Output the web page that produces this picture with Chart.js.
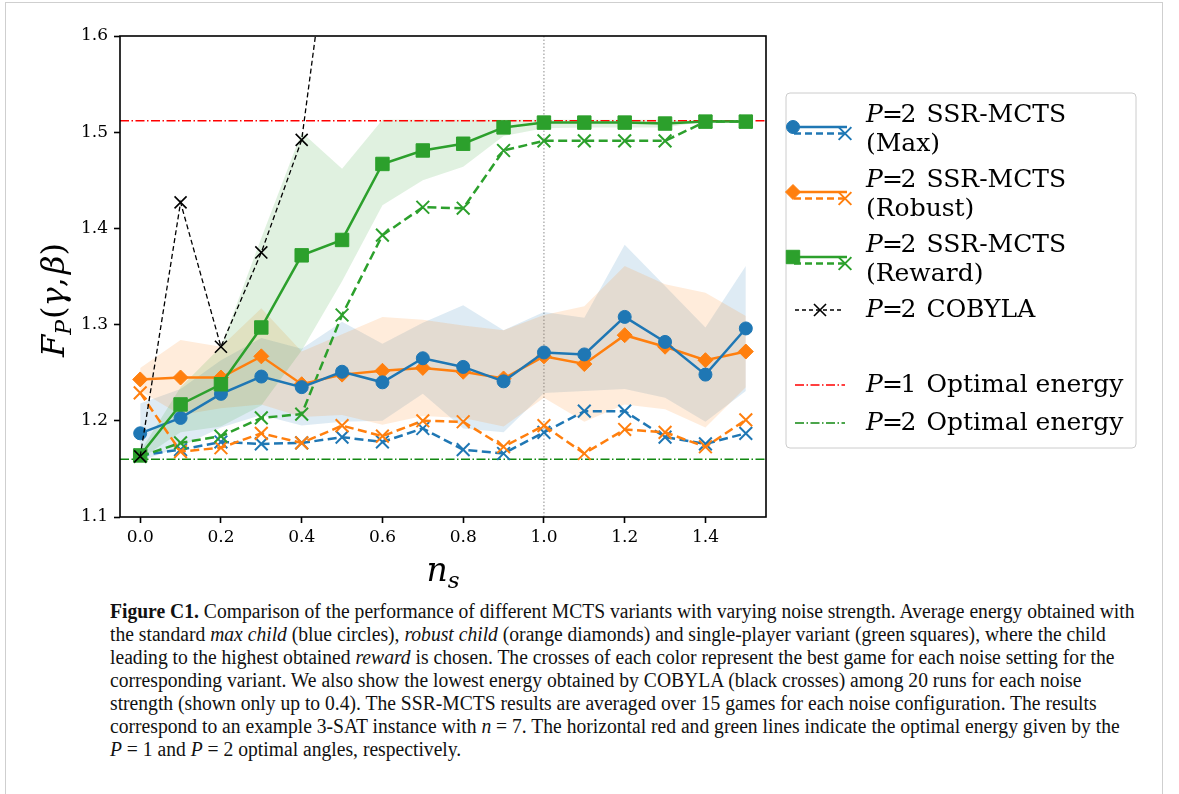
<!DOCTYPE html>
<html>
<head>
<meta charset="utf-8">
<script src="https://cdn.jsdelivr.net/npm/chart.js@4.4.1/dist/chart.umd.min.js"></script>
<style>
  html, body { margin: 0; padding: 0; background: #fff; }
  body { width: 1179px; height: 794px; position: relative; overflow: hidden; }
  #frame { position: absolute; left: 5px; top: 2px; width: 1158px; height: 900px; border: 1.5px solid #cfcfcf; box-sizing: border-box; }
  #plot { position: absolute; left: 0; top: 0; }
  #caption { position: absolute; left: 110px; top: 600px; font-family: "Liberation Serif", serif; font-size: 20px; color: #111; }
  #caption .ln { white-space: nowrap; height: 23px; line-height: 23px; transform-origin: 0 50%; }
  #caption i { font-style: italic; }
</style>
</head>
<body>
<div id="frame"></div>
<canvas id="plot" width="1179" height="600"></canvas>
<div id="caption">
  <div class="ln"><b>Figure C1.</b> Comparison of the performance of different MCTS variants with varying noise strength. Average energy obtained with</div>
  <div class="ln">the standard <i>max child</i> (blue circles), <i>robust child</i> (orange diamonds) and single-player variant (green squares), where the child</div>
  <div class="ln">leading to the highest obtained <i>reward</i> is chosen. The crosses of each color represent the best game for each noise setting for the</div>
  <div class="ln">corresponding variant. We also show the lowest energy obtained by COBYLA (black crosses) among 20 runs for each noise</div>
  <div class="ln">strength (shown only up to 0.4). The SSR-MCTS results are averaged over 15 games for each noise configuration. The results</div>
  <div class="ln">correspond to an example 3-SAT instance with <i>n</i> = 7. The horizontal red and green lines indicate the optimal energy given by the</div>
  <div class="ln"><i>P</i> = 1 and <i>P</i> = 2 optimal angles, respectively.</div>
</div>
<script>
// noise strength n_s
const ns = [0, 0.1, 0.2, 0.3, 0.4, 0.5, 0.6, 0.7, 0.8, 0.9, 1.0, 1.1, 1.2, 1.3, 1.4, 1.5];

// averaged energy over games
const maxMean    = [1.187, 1.203, 1.228, 1.246, 1.235, 1.251, 1.240, 1.265, 1.256, 1.241, 1.271, 1.269, 1.308, 1.282, 1.248, 1.296];
const robustMean = [1.243, 1.245, 1.245, 1.267, 1.238, 1.248, 1.252, 1.255, 1.251, 1.244, 1.267, 1.259, 1.289, 1.277, 1.263, 1.272];
const rewardMean = [1.164, 1.217, 1.238, 1.297, 1.372, 1.388, 1.467, 1.481, 1.488, 1.505, 1.510, 1.510, 1.510, 1.509, 1.511, 1.511];

// spread bands around the averages
const maxUpper    = [1.218, 1.233, 1.263, 1.286, 1.275, 1.303, 1.280, 1.302, 1.320, 1.294, 1.313, 1.307, 1.383, 1.340, 1.297, 1.361];
const maxLower    = [1.158, 1.173, 1.193, 1.206, 1.195, 1.199, 1.200, 1.228, 1.192, 1.188, 1.229, 1.231, 1.233, 1.224, 1.199, 1.231];
const robustUpper = [1.255, 1.284, 1.277, 1.317, 1.272, 1.290, 1.308, 1.305, 1.299, 1.294, 1.310, 1.319, 1.361, 1.342, 1.333, 1.309];
const robustLower = [1.231, 1.206, 1.213, 1.217, 1.204, 1.206, 1.196, 1.205, 1.203, 1.194, 1.224, 1.199, 1.217, 1.212, 1.193, 1.235];
const rewardUpper = [1.168, 1.235, 1.277, 1.390, 1.500, 1.462, 1.513, 1.513, 1.513, 1.513, 1.513, 1.513, 1.513, 1.513, 1.512, 1.512];
const rewardLower = [1.160, 1.188, 1.194, 1.216, 1.273, 1.345, 1.424, 1.450, 1.464, 1.496, 1.504, 1.505, 1.505, 1.505, 1.511, 1.511];

// best game per noise setting
const maxBest    = [1.164, 1.170, 1.178, 1.176, 1.177, 1.183, 1.178, 1.192, 1.170, 1.166, 1.188, 1.210, 1.210, 1.183, 1.176, 1.187];
const robustBest = [1.229, 1.168, 1.172, 1.187, 1.177, 1.195, 1.184, 1.200, 1.199, 1.173, 1.195, 1.166, 1.191, 1.188, 1.173, 1.201];
const rewardBest = [1.163, 1.177, 1.184, 1.203, 1.207, 1.310, 1.393, 1.422, 1.421, 1.481, 1.491, 1.491, 1.491, 1.491, 1.511, 1.511];

// COBYLA lowest energy over 20 runs
const cobylaNs = [0, 0.1, 0.2, 0.3, 0.4, 0.5];
const cobyla   = [1.163, 1.427, 1.277, 1.375, 1.492, 1.81];

// optimal energies and the n_s = 1 marker
const p1Optimal = 1.512;
const p2Optimal = 1.160;
const noiseMark = 1.0;

const xRange = [-0.05, 1.55];
const yRange = [1.1, 1.6];
const xTicks = [0, 0.2, 0.4, 0.6, 0.8, 1.0, 1.2, 1.4];
const yTicks = [1.1, 1.2, 1.3, 1.4, 1.5, 1.6];

const variantNames = ['(Max)', '(Robust)', '(Reward)'];

const BLUE = '#1f77b4', ORANGE = '#ff7f0e', GREEN = '#2ca02c';
const REF_RED = '#ff0000', REF_GREEN = '#118811';
const DASHDOT = [9, 2.5, 1.5, 2.5];
const SERIF = '"DejaVu Serif"';

const pts = (xs, ys) => ys.map((y, i) => ({ x: xs[i], y }));

function band(lower, upper, rgb, order) {
  return [
    { data: pts(ns, lower), borderColor: 'rgba(0,0,0,0)', borderWidth: 0, pointRadius: 0, fill: false, order },
    { data: pts(ns, upper), borderColor: 'rgba(0,0,0,0)', borderWidth: 0, pointRadius: 0, fill: '-1',
      backgroundColor: 'rgba(' + rgb + ',0.15)', order }
  ];
}

function meanLine(ys, color, style, radius, order) {
  return { data: pts(ns, ys), borderColor: color, borderWidth: 2.5, pointStyle: style, pointRadius: radius,
    pointBackgroundColor: color, pointBorderColor: color, pointBorderWidth: 1, fill: false, order };
}

function bestLine(ys, color, order) {
  return { data: pts(ns, ys), borderColor: color, borderWidth: 2.5, borderDash: [9, 4.5], pointStyle: 'crossRot',
    pointRadius: 9, pointBorderColor: color, pointBorderWidth: 2, fill: false, order };
}

function refLine(value, color) {
  return { data: [{ x: xRange[0], y: value }, { x: xRange[1], y: value }], borderColor: color, borderWidth: 1.5,
    borderDash: DASHDOT, pointRadius: 0, fill: false, order: 12 };
}

const datasets = [
  ...band(rewardLower, rewardUpper, '44,160,44', 20),
  ...band(robustLower, robustUpper, '255,127,14', 21),
  ...band(maxLower, maxUpper, '31,119,180', 22),
  refLine(p1Optimal, REF_RED),
  refLine(p2Optimal, REF_GREEN),
  bestLine(maxBest, BLUE, 9),
  bestLine(robustBest, ORANGE, 8),
  bestLine(rewardBest, GREEN, 7),
  meanLine(robustMean, ORANGE, 'rectRot', 7.5, 5),
  meanLine(maxMean, BLUE, 'circle', 6.5, 4),
  meanLine(rewardMean, GREEN, 'rect', 9.5, 3),
  { data: pts(cobylaNs, cobyla), borderColor: '#000', borderWidth: 1.3, borderDash: [5, 3], pointStyle: 'crossRot',
    pointRadius: 8.5, pointBorderColor: '#000', pointBorderWidth: 1.6, fill: false, order: 1 }
];

// draw a run of text pieces (mixed italic / sub-scripted) centred on cx
function drawRuns(ctx, runs, cx, baseline) {
  const widths = runs.map(r => {
    ctx.font = (r.italic ? 'italic ' : '') + r.size + 'px ' + SERIF;
    return ctx.measureText(r.t).width + (r.gap || 0);
  });
  let x = cx - widths.reduce((a, b) => a + b, 0) / 2;
  runs.forEach((r, i) => {
    ctx.font = (r.italic ? 'italic ' : '') + r.size + 'px ' + SERIF;
    ctx.fillText(r.t, x, baseline + (r.dy || 0));
    x += widths[i];
  });
}

// "P = k" prefix of the legend labels, returns x where the rest starts
function mathPrefix(ctx, x, y, k, size) {
  ctx.font = 'italic ' + size + 'px ' + SERIF;
  ctx.fillText('P', x, y);
  ctx.font = size + 'px ' + SERIF;
  ctx.fillText('=', x + 0.64 * size, y);
  ctx.fillText(String(k), x + 1.38 * size, y);
  return x + 2.42 * size;
}

function marker(ctx, style, radius, x, y, color, lw) {
  ctx.save();
  ctx.setLineDash([]);
  ctx.fillStyle = color;
  ctx.strokeStyle = color;
  ctx.lineWidth = lw;
  Chart.helpers.drawPoint(ctx, { pointStyle: style, radius, rotation: 0, borderWidth: lw }, x, y);
  ctx.restore();
}

function segment(ctx, x0, x1, y, color, width, dash) {
  ctx.save();
  ctx.strokeStyle = color;
  ctx.lineWidth = width;
  ctx.setLineDash(dash);
  ctx.beginPath();
  ctx.moveTo(x0, y);
  ctx.lineTo(x1, y);
  ctx.stroke();
  ctx.restore();
}

const framePlugin = {
  id: 'frame',
  beforeDatasetsDraw(chart) {
    const { ctx, chartArea: a, scales } = chart;
    const x = scales.x.getPixelForValue(noiseMark);
    ctx.save();
    ctx.strokeStyle = '#8c8c8c';
    ctx.lineWidth = 1;
    ctx.setLineDash([1.5, 2]);
    ctx.beginPath();
    ctx.moveTo(x, a.top);
    ctx.lineTo(x, a.bottom);
    ctx.stroke();
    ctx.restore();
  },
  afterDatasetsDraw(chart) {
    const { ctx, chartArea: a } = chart;
    ctx.save();
    ctx.strokeStyle = '#000';
    ctx.lineWidth = 1.6;
    ctx.strokeRect(a.left, a.top, a.right - a.left, a.bottom - a.top);
    ctx.restore();
  },
  afterDraw(chart) {
    const { ctx, chartArea: a } = chart;
    ctx.save();
    ctx.fillStyle = '#000';
    ctx.textBaseline = 'alphabetic';

    // axis titles
    drawRuns(ctx, [
      { t: 'n', italic: true, size: 33 },
      { t: 's', italic: true, size: 23, dy: 7 }
    ], (a.left + a.right) / 2, 581);

    ctx.save();
    ctx.translate(64, 300);
    ctx.rotate(-Math.PI / 2);
    drawRuns(ctx, [
      { t: 'F', italic: true, size: 32 },
      { t: 'P', italic: true, size: 22, dy: 7, gap: 1 },
      { t: '(', size: 32 },
      { t: 'γ', italic: true, size: 32 },
      { t: ',', size: 32, gap: 3 },
      { t: 'β', italic: true, size: 32 },
      { t: ')', size: 32 }
    ], 0, 0);
    ctx.restore();

    // legend
    ctx.beginPath();
    ctx.roundRect(786, 93, 350, 355, 4);
    ctx.fillStyle = 'rgba(255,255,255,0.8)';
    ctx.fill();
    ctx.strokeStyle = '#cccccc';
    ctx.lineWidth = 1;
    ctx.stroke();

    const fs = 25;
    const tx = 866;
    ctx.fillStyle = '#000';
    ctx.textBaseline = 'middle';
    const pairs = [
      { color: BLUE, style: 'circle', radius: 6.5 },
      { color: ORANGE, style: 'rectRot', radius: 7.5 },
      { color: GREEN, style: 'rect', radius: 9.5 }
    ];
    pairs.forEach((p, i) => {
      const y = 115 + 65 * i;
      segment(ctx, 790, 847, y + 12, p.color, 2.5, []);
      marker(ctx, p.style, p.radius, 793, y + 12, p.color, 1);
      segment(ctx, 794, 847, y + 18.5, p.color, 2.5, [7, 4]);
      marker(ctx, 'crossRot', 9, 845, y + 18.5, p.color, 2);
      ctx.fillStyle = '#000';
      const rest = mathPrefix(ctx, tx, y, 2, fs);
      ctx.fillText('SSR-MCTS', rest, y);
      ctx.fillText(variantNames[i], tx, y + 29);
    });

    segment(ctx, 795, 843, 310, '#000', 1.3, [4, 3]);
    marker(ctx, 'crossRot', 8.5, 820, 310, '#000', 1.6);
    ctx.fillStyle = '#000';
    ctx.fillText('COBYLA', mathPrefix(ctx, tx, 310, 2, fs), 310);

    segment(ctx, 795, 845, 385, REF_RED, 1.5, DASHDOT);
    ctx.fillText('Optimal energy', mathPrefix(ctx, tx, 385, 1, fs), 385);
    segment(ctx, 795, 845, 423, REF_GREEN, 1.5, DASHDOT);
    ctx.fillText('Optimal energy', mathPrefix(ctx, tx, 423, 2, fs), 423);

    ctx.restore();
  }
};

Chart.defaults.font.family = SERIF;
Chart.defaults.color = '#000';

const axisStyle = {
  type: 'linear',
  border: { display: false },
  grid: { drawOnChartArea: false, drawTicks: true, tickLength: 6, tickWidth: 1.6, tickColor: '#000' },
};

new Chart(document.getElementById('plot'), {
  type: 'line',
  data: { datasets },
  options: {
    responsive: false,
    animation: false,
    events: [],
    layout: { padding: { left: 0, top: 36, right: 413, bottom: 0 } },
    scales: {
      x: {
        ...axisStyle,
        min: xRange[0], max: xRange[1],
        afterBuildTicks: s => { s.ticks = xTicks.map(v => ({ value: v })); },
        afterFit: s => { s.height = 83; },
        ticks: { padding: 4, maxRotation: 0, autoSkip: false, font: { size: 17 }, callback: v => v.toFixed(1) }
      },
      y: {
        ...axisStyle,
        min: yRange[0], max: yRange[1],
        afterBuildTicks: s => { s.ticks = yTicks.map(v => ({ value: v })); },
        afterFit: s => { s.width = 120; },
        ticks: { padding: 6, font: { size: 17 }, callback: v => v.toFixed(1) }
      }
    },
    plugins: { legend: { display: false }, tooltip: { enabled: false } }
  },
  plugins: [framePlugin]
});

// caption lines are set in a condensed face: squeeze all of them by the same factor
const lines = document.querySelectorAll('#caption .ln');
const squeeze = 1025 / lines[0].scrollWidth;
lines.forEach(l => { l.style.transform = 'scaleX(' + squeeze + ')'; });
</script>
</body>
</html>
